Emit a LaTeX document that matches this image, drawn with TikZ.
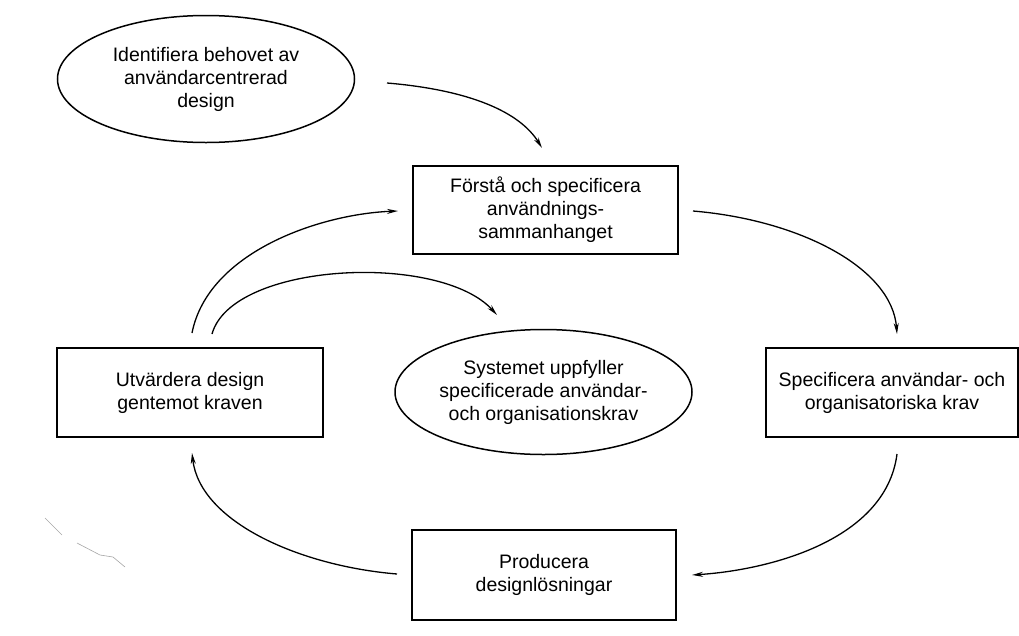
\documentclass[tikz,border=0pt]{standalone}
\usepackage{fontspec}
\setmainfont{Liberation Sans}
\usetikzlibrary{shapes.geometric,arrows.meta}
\begin{document}
\begin{tikzpicture}[x=1pt,y=-1pt,
  lbl/.style={font=\fontsize{19.5}{23}\selectfont, align=center, text=black},
  boxnode/.style={lbl, draw, line width=1.6pt, rectangle, inner sep=0pt},
  ovalnode/.style={lbl, draw, line width=1.5pt, ellipse, inner sep=0pt, minimum width=297pt, minimum height=127pt},
  arr/.style={line width=1.3pt, -{Stealth[length=11pt,width=5pt]}},
  scan/.style={draw=black!35, line width=0.6pt}
]
\useasboundingbox (0,0) rectangle (1019,635);

% nodes
\node[ovalnode] (need) at (206,79) {Identifiera behovet av\\användarcentrerad\\design};
\node[boxnode, minimum width=265pt, minimum height=88pt] (context) at (545.5,210) {Förstå och specificera\\användnings-\\sammanhanget};
\node[boxnode, minimum width=252pt, minimum height=89pt] (req) at (892,392.5) {Specificera användar- och\\organisatoriska krav};
\node[boxnode, minimum width=264pt, minimum height=90pt] (prod) at (544,575) {Producera\\designlösningar};
\node[boxnode, minimum width=266pt, minimum height=89pt] (eval) at (190,392.5) {Utvärdera design\\gentemot kraven};
\node[ovalnode, minimum height=125pt] (goal) at (543.5,392) {Systemet uppfyller\\specificerade användar-\\och organisationskrav};

% free ends of the connectors
\coordinate (a1s) at (387,83);   \coordinate (a1e) at (542,148);
\coordinate (a2s) at (693,211);  \coordinate (a2e) at (897,334);
\coordinate (a3s) at (897,454);  \coordinate (a3e) at (692,575);
\coordinate (a4s) at (397,574);  \coordinate (a4e) at (192,453);
\coordinate (a5s) at (192,333);  \coordinate (a5e) at (398,211);
\coordinate (a6s) at (212,334);  \coordinate (a6e) at (497,315);

% connectors
\draw[arr] (a1s) .. controls (470,90) and (520,112) .. (a1e);
\draw[arr] (a2s) .. controls (800,220) and (892,268) .. (a2e);
\draw[arr] (a3s) .. controls (886,540) and (770,570) .. (a3e);
\draw[arr] (a4s) .. controls (300,566) and (200,522) .. (a4e);
\draw[arr] (a5s) .. controls (208,252) and (320,214) .. (a5e);
\draw[arr] (a6s) .. controls (232,262) and (440,252) .. (a6e);

% faint scan marks
\draw[scan] (45,518) -- (62,535);
\draw[scan] (77,543) -- (100,555) -- (113,557) -- (125,567);
\end{tikzpicture}
\end{document}
